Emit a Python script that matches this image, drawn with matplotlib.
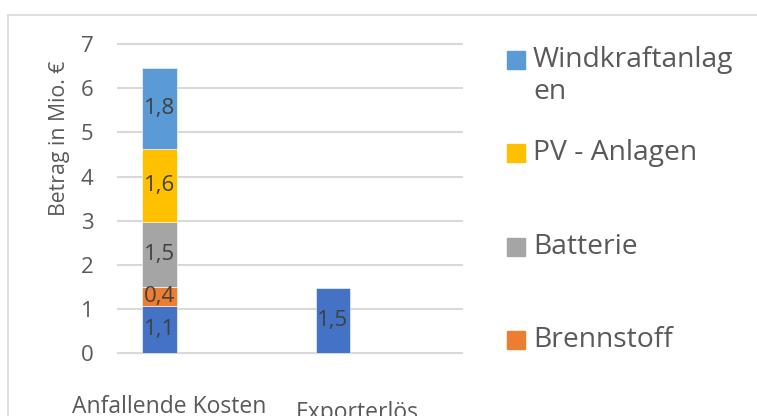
import matplotlib
matplotlib.use("Agg")
import matplotlib.pyplot as plt
from matplotlib.patches import Rectangle
from matplotlib.lines import Line2D

plt.rcParams['font.family'] = ['Open Sans', 'DejaVu Sans']

categories = ["Anfallende Kosten", "Exporterlös"]
# stacked series, bottom to top (values per category)
series_names = ["Netz", "Brennstoff", "Batterie", "PV - Anlagen", "Windkraftanlagen"]
netz = [1.08, 1.48]
brennstoff = [0.43, 0.0]
batterie = [1.47, 0.0]
pv = [1.64, 0.0]
wind = [1.84, 0.0]
series_values = [netz, brennstoff, batterie, pv, wind]
colors = ["#4472C4", "#ED7D31", "#A5A5A5", "#FFC000", "#5B9BD5"]
legend_labels = ["Windkraftanlag\nen", "PV - Anlagen", "Batterie", "Brennstoff"]
legend_colors = ["#5B9BD5", "#FFC000", "#A5A5A5", "#ED7D31"]
yticks = [0, 1, 2, 3, 4, 5, 6, 7]

W, H = 757, 416
fig = plt.figure(figsize=(W / 100, H / 100), dpi=100)
fig.patch.set_facecolor("white")

# chart border (partially cropped)
fig.add_artist(Line2D([8 / W, 8 / W], [0, 1 - 15 / H], color="#D9D9D9", lw=1.2))
fig.add_artist(Line2D([8 / W, 1], [1 - 15 / H, 1 - 15 / H], color="#D9D9D9", lw=1.2))

px0, px7 = 353.3, 44.0
upp = (px0 - px7) / 7.0
ylo, yhi = -0.05, 7.05
bot_px = px0 - ylo * upp
top_px = px7 - (yhi - 7) * upp
ax = fig.add_axes([117 / W, 1 - bot_px / H, (463 - 117) / W, (bot_px - top_px) / H])
ax.set_ylim(ylo, yhi)
ax.set_xlim(-0.245, 1.75)

x = [0, 1]
bottoms = [0.0, 0.0]
for vals, c in zip(series_values, colors):
    for i in range(len(x)):
        v = vals[i]
        if v <= 0:
            continue
        ax.bar(x[i], v, bottom=bottoms[i], width=0.2, color=c, edgecolor="white",
               linewidth=0.4, zorder=3)
        ax.text(x[i], bottoms[i] + v / 2, f"{v:.1f}".replace(".", ","),
                ha="center", va="center", fontsize=16, color="#404040", zorder=4)
        bottoms[i] += v

ax.set_yticks(yticks)
ax.yaxis.grid(True, color="#D9D9D9", lw=1.5, zorder=0)
ax.set_axisbelow(True)
ax.tick_params(axis="y", length=0, pad=17, labelsize=16, labelcolor="#595959")
ax.set_xticks([])
for s in ax.spines.values():
    s.set_visible(False)

fig.text(60 / W, 1 - 138 / H, "Betrag in Mio. €", rotation=90, ha="center",
         va="center", fontsize=15.3, color="#595959")

fig.text(169 / W, 1 - 413 / H, categories[0], ha="center", va="baseline",
         fontsize=16.5, color="#595959")
fig.text(357 / W, 1 - 419 / H, categories[1], ha="center", va="baseline",
         fontsize=16.5, color="#595959")

# legend (manual, bottom entry cropped off)
ys = [60, 153, 247, 340]
for lab, c, yy in zip(legend_labels, legend_colors, ys):
    fig.add_artist(Rectangle((507 / W, 1 - (yy + 9) / H), 18 / W, 18 / H,
                             color=c, transform=fig.transFigure))
    fig.text(533 / W, 1 - (yy - 14) / H, lab, ha="left", va="top",
             fontsize=20.3, color="#595959", linespacing=1.2)

fig.savefig("out.png", dpi=100)
